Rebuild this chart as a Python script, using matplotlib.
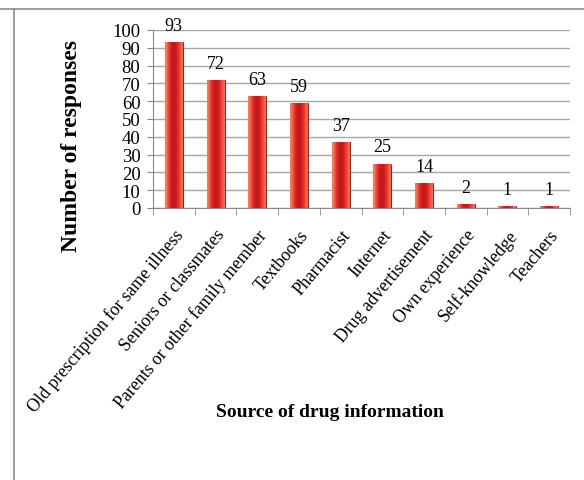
import numpy as np
import matplotlib.pyplot as plt
from matplotlib.lines import Line2D

sources = [
    "Old prescription for same illness",
    "Seniors or classmates",
    "Parents or other family member",
    "Textbooks",
    "Pharmacist",
    "Internet",
    "Drug advertisement",
    "Own experience",
    "Self-knowledge",
    "Teachers",
]
responses = [93, 72, 63, 59, 37, 25, 14, 2, 1, 1]
y_ticks = list(range(0, 101, 10))

plt.rcParams["font.family"] = ["Liberation Serif", "DejaVu Serif"]

fig = plt.figure(figsize=(5.84, 4.81), dpi=100)
ax = fig.add_axes([153 / 584, 1 - 209 / 481, 417 / 584, 178 / 481])

x = np.arange(len(sources))
bars = ax.bar(x, responses, width=0.43, color="#C62F2D",
              edgecolor="#7E1616", linewidth=0.6, zorder=3)

# horizontal shading to mimic the bevelled bars
shade = np.array([[0.0, 0.55, 0.85, 1.0, 0.85, 0.55, 0.2]])
for b in bars:
    x0, y0 = b.get_x(), b.get_y()
    w, h = b.get_width(), b.get_height()
    im = ax.imshow(shade, cmap="Reds", vmin=-1.2, vmax=1.6, aspect="auto",
                   extent=[x0, x0 + w, y0, y0 + h], zorder=3.5,
                   interpolation="bicubic")
    im.set_clip_path(b)

for xi, v in zip(x, responses):
    ax.annotate(str(v), (xi, v), xytext=(0, 6), textcoords="offset points",
                ha="center", va="bottom", fontsize=13)

ax.set_xlim(-0.5, len(sources) - 0.5)
ax.set_ylim(0, 100)
ax.set_yticks(y_ticks)
ax.tick_params(axis="y", labelsize=13.5, length=4, color="#888888", pad=5)
ax.yaxis.grid(True, color="#A6A6A6", linewidth=1, zorder=0)
ax.set_axisbelow(True)

ax.set_xticks(x)
ax.set_xticklabels(sources, rotation=50, ha="right", rotation_mode="anchor",
                   fontsize=12.8)
ax.tick_params(axis="x", length=0, pad=13)
ax.set_xticks(np.arange(-0.5, len(sources), 1), minor=True)
ax.tick_params(axis="x", which="minor", length=5, color="#888888")

for s in ["top", "right"]:
    ax.spines[s].set_visible(False)
for s in ["left", "bottom"]:
    ax.spines[s].set_color("#888888")

fig.text(71 / 584, 1 - 146 / 481, "Number of responses", rotation=90,
         ha="center", va="center", fontsize=17, fontweight="bold")
fig.text(330 / 584, 1 - 413 / 481, "Source of drug information", ha="center",
         va="center", fontsize=14, fontweight="bold")

# outer chart frame
fig.add_artist(Line2D([0, 1], [1 - 10 / 481, 1 - 10 / 481],
                      color="#8C8C8C", linewidth=1.2, transform=fig.transFigure))
fig.add_artist(Line2D([14 / 584, 14 / 584], [0, 1 - 10 / 481],
                      color="#8C8C8C", linewidth=1.2, transform=fig.transFigure))

fig.savefig("out.png", dpi=100)
